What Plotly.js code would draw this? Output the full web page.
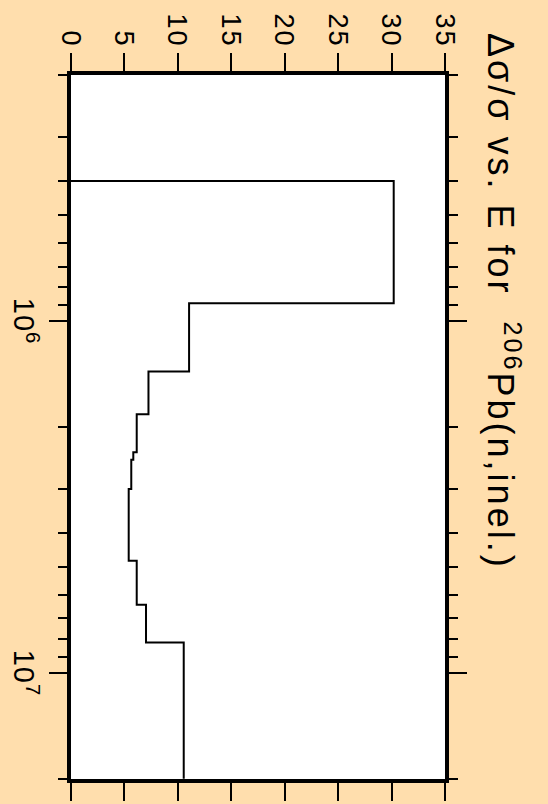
<!DOCTYPE html>
<html>
<head>
<meta charset="utf-8">
<script src="https://cdn.plot.ly/plotly-3.0.1.min.js"></script>
<style>
  html, body { margin: 0; padding: 0; background: #FFDEAD; overflow: hidden; width: 548px; height: 804px; }
  #plot { position: absolute; left: 0; top: 0; width: 804px; height: 548px;
          transform-origin: 0 0; transform: translate(548px, 0) rotate(90deg); }
  #plot .gtitle, #plot .gtitle tspan { letter-spacing: 3px; }
  #plot .ytick text { letter-spacing: 2px; }
  #plot .xtick text { letter-spacing: 1px; }
</style>
</head>
<body>
<div id="plot"></div>
<script>
// Energy bin edges (eV) and relative uncertainty values (%)
const binEdges = [4.0e5, 8.9e5, 1.39e6, 1.84e6, 2.36e6, 2.48e6, 3.0e6, 4.8e6, 6.4e6, 8.2e6, 2.0e7];
const binValues = [30.2, 11.05, 7.25, 6.15, 5.83, 5.64, 5.40, 6.15, 7.02, 10.55];
const majorTickVals = [1e6, 1e7];
const majorTickText = ['10<sup>6</sup>', '10<sup>7</sup>'];
const minorTickVals = [2e5, 3e5, 4e5, 5e5, 6e5, 7e5, 8e5, 9e5,
                       2e6, 3e6, 4e6, 5e6, 6e6, 7e6, 8e6, 9e6, 2e7];
const yTickVals = [0, 5, 10, 15, 20, 25, 30, 35];

const xs = [binEdges[0]].concat(binEdges);
const ys = [0].concat(binValues).concat([binValues[binValues.length - 1]]);

const trace = {
  x: xs, y: ys, type: 'scatter', mode: 'lines',
  line: { shape: 'hv', color: 'black', width: 2 },
  hoverinfo: 'skip'
};

const fontFam = '"Liberation Sans", Arial, Helvetica, sans-serif';
const layout = {
  width: 804, height: 548,
  margin: { l: 75, r: 25, t: 103, b: 71 },
  paper_bgcolor: '#FFDEAD',
  plot_bgcolor: 'white',
  showlegend: false,
  font: { family: fontFam, color: 'black' },
  title: {
    text: '\u0394\u03c3/\u03c3 vs. E for \u00a0<sup>206</sup>Pb(n,inel.)',
    font: { family: fontFam, size: 36, color: 'black' },
    xref: 'container', yref: 'container',
    x: 33 / 804, xanchor: 'left',
    y: 1 - 47 / 548, yanchor: 'middle'
  },
  xaxis: {
    type: 'log',
    range: [Math.log10(2e5) - 0.0005, Math.log10(2e7) + 0.0005],
    tickmode: 'array', tickvals: majorTickVals, ticktext: majorTickText,
    ticks: 'outside', ticklen: 18, tickwidth: 2, tickcolor: 'black',
    showline: true, linewidth: 4, linecolor: 'black', mirror: 'ticks',
    showgrid: false, zeroline: false,
    tickfont: { family: fontFam, size: 29, color: 'black' },
    minor: { tickmode: 'array', tickvals: minorTickVals, ticks: 'outside',
             ticklen: 9, tickwidth: 2, tickcolor: 'black', showgrid: false }
  },
  yaxis: {
    range: [0, 35],
    tickmode: 'array', tickvals: yTickVals,
    ticks: 'outside', ticklen: 18, tickwidth: 2, tickcolor: 'black',
    showline: true, linewidth: 4, linecolor: 'black', mirror: 'ticks',
    showgrid: false, zeroline: false,
    tickfont: { family: fontFam, size: 27, color: 'black' }
  }
};

Plotly.newPlot('plot', [trace], layout, { staticPlot: true, displayModeBar: false });
</script>
</body>
</html>
